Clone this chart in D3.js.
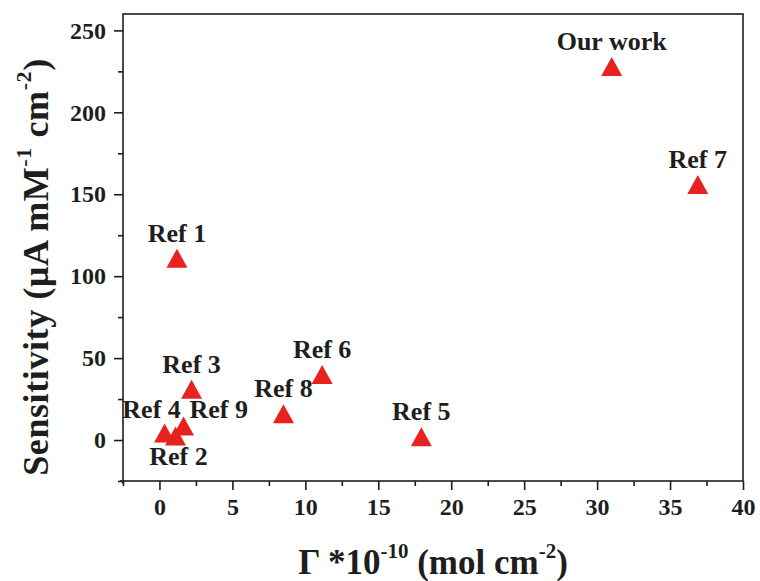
<!DOCTYPE html>
<html><head><meta charset="utf-8">
<script src="https://cdn.jsdelivr.net/npm/d3@7"></script>
<style>body{margin:0;background:#fff}svg{display:block}</style>
</head><body>
<svg id="c" width="760" height="581"></svg>
<script>
const labels = ["Our work","Ref 7","Ref 1","Ref 3","Ref 6","Ref 8","Ref 5","Ref 4","Ref 9","Ref 2"];
const gamma = [31.0, 36.9, 1.2, 2.2, 11.15, 8.5, 17.95, 0.35, 1.65, 1.1];
const sensitivity = [228, 156, 111, 31, 40, 16, 2, 4.3, 8.5, 2.5];
const xTicks = [0,5,10,15,20,25,30,35,40];
const yTicks = [0,50,100,150,200,250];
const labelPlace = {"Ref 4":"left","Ref 9":"right","Ref 2":"below"};

const svg = d3.select("#c");
const L=123, R=743, T=14, B=481;
const x = d3.scaleLinear().domain([-2.5,40]).range([L,R]);
const y = d3.scaleLinear().domain([-25,260]).range([B,T]);
const font = "'Liberation Serif','Times New Roman',serif";
const ink = "#1e1e1e";

// frame
svg.append("rect").attr("x",L).attr("y",T).attr("width",R-L).attr("height",B-T)
  .attr("fill","none").attr("stroke",ink).attr("stroke-width",1.6);

// x axis
const xMinor = d3.range(-2.5,40.01,2.5).filter(v=>!xTicks.includes(v));
const gx = svg.append("g").attr("transform",`translate(0,${B})`);
gx.call(d3.axisBottom(x).tickValues(xTicks).tickSize(9).tickPadding(8).tickFormat(d3.format("d")));
gx.append("g").call(d3.axisBottom(x).tickValues(xMinor).tickSize(5).tickFormat(""));
gx.selectAll(".domain").remove();
gx.selectAll("line").attr("stroke",ink).attr("stroke-width",1.6);
gx.selectAll("text").attr("font-family",font).attr("font-weight","bold").attr("font-size",24).attr("fill",ink);

// y axis
const yMinor = d3.range(-25,260,25).filter(v=>!yTicks.includes(v));
const gy = svg.append("g").attr("transform",`translate(${L},0)`);
gy.call(d3.axisLeft(y).tickValues(yTicks).tickSize(9).tickPadding(8).tickFormat(d3.format("d")));
gy.append("g").call(d3.axisLeft(y).tickValues(yMinor).tickSize(5).tickFormat(""));
gy.selectAll(".domain").remove();
gy.selectAll("line").attr("stroke",ink).attr("stroke-width",1.6);
gy.selectAll("text").attr("font-family",font).attr("font-weight","bold").attr("font-size",24).attr("fill",ink);
// small axis overshoot at bottom-left corner
svg.append("line").attr("x1",L-3).attr("x2",L).attr("y1",B).attr("y2",B).attr("stroke",ink).attr("stroke-width",1.6);
svg.append("line").attr("x1",L).attr("x2",L).attr("y1",B).attr("y2",B+3).attr("stroke",ink).attr("stroke-width",1.6);

// points
const tri = "M0,-9.5L10.5,9.5L-10.5,9.5Z";
const pts = labels.map((l,i)=>({l, gx:gamma[i], s:sensitivity[i]}));
svg.append("g").selectAll("path").data(pts).join("path")
  .attr("d",tri).attr("transform",d=>`translate(${x(d.gx)},${y(d.s)})`)
  .attr("fill","#e8231f");

// labels
svg.append("g").selectAll("text").data(pts).join("text")
  .attr("font-family",font).attr("font-weight","bold").attr("font-size",26).attr("fill",ink)
  .each(function(d){
    const p = labelPlace[d.l] || "above";
    const t = d3.select(this).text(d.l);
    let dx=0, dy=-16.5, anchor="middle";
    if(p==="left"){dx=-13; dy=-15;}
    if(p==="right"){dx=6; dy=-8; anchor="start";}
    if(p==="below"){dx=3; dy=29;}
    t.attr("x",x(d.gx)+dx).attr("y",y(d.s)+dy).attr("text-anchor",anchor);
  });

// axis titles
const xt = svg.append("text").attr("x",(L+R)/2).attr("y",574).attr("text-anchor","middle")
  .attr("font-family",font).attr("font-weight","bold").attr("font-size",35).attr("fill",ink);
xt.append("tspan").text("Γ *10");
xt.append("tspan").text("-10").attr("font-size",21).attr("dy",-16);
xt.append("tspan").text(" (mol cm").attr("dy",16);
xt.append("tspan").text("-2").attr("font-size",21).attr("dy",-16);
xt.append("tspan").text(")").attr("dy",16);

const yt = svg.append("text").attr("transform",`translate(48,267) rotate(-90)`).attr("text-anchor","middle")
  .attr("font-family",font).attr("font-weight","bold").attr("font-size",36).attr("fill",ink)
  .attr("letter-spacing",0.6);
yt.append("tspan").text("Sensitivity (μA mM");
yt.append("tspan").text("-1").attr("font-size",22).attr("dy",-17);
yt.append("tspan").text("  cm").attr("dy",17);
yt.append("tspan").text("-2").attr("font-size",22).attr("dy",-17);
yt.append("tspan").text(")").attr("dy",17);
</script>
</body></html>
